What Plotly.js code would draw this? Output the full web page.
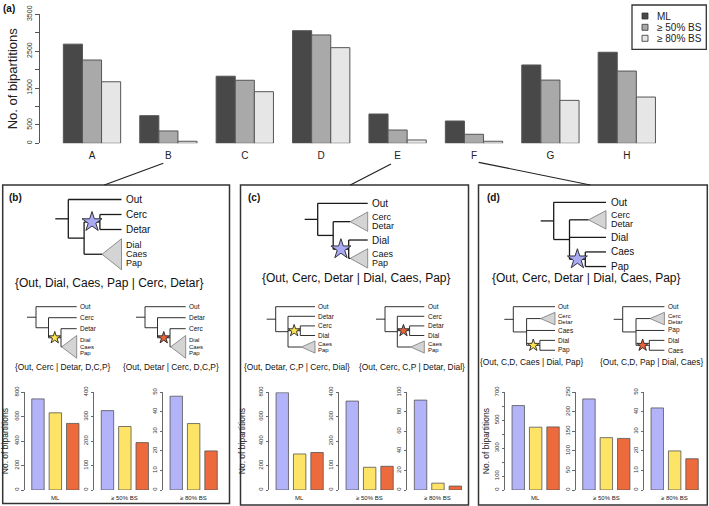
<!DOCTYPE html>
<html><head><meta charset="utf-8">
<script src="https://cdn.plot.ly/plotly-3.0.1.min.js"></script>
<style>html,body{margin:0;padding:0;background:#fff}#chart{width:709px;height:506px}</style>
</head><body><div id="chart"></div>
<script>
// ---------------- DATA ----------------
const categories = ['A','B','C','D','E','F','G','H'];
const seriesNames = ['ML','≥ 50% BS','≥ 80% BS'];
const mlCounts   = [2690, 750, 1820, 3055, 795, 605, 2125, 2470];
const bs50Counts = [2260, 335, 1710, 2940, 360, 245, 1715, 1960];
const bs80Counts = [1670,  55, 1400, 2595,  90,  55, 1165, 1255];
const mainTickVals = [0,500,1000,1500,2000,2500,3000,3500];
const mainTickText = ['0','500','','1500','','2500','','3500'];

const starCats = ['blue star','yellow star','red star'];
const smallLabels = ['ML','≥ 50% BS','≥ 80% BS'];
const panelB_ML = [746, 632, 545];
const panelB_BS50 = [325, 260, 194];
const panelB_BS80 = [48, 34, 20];
const panelC_ML = [797, 295, 307];
const panelC_BS50 = [364, 93, 97];
const panelC_BS80 = [92, 7, 4];
const panelD_ML = [605, 450, 452];
const panelD_BS50 = [233, 134, 132];
const panelD_BS80 = [42, 20, 16];
const ticksB_ML = [0,200,400,600,800],  ticktextB_ML = ['0','200','400','600','800'];
const ticksB_50 = [0,100,200,300,400],  ticktextB_50 = ['0','100','200','300','400'];
const ticksB_80 = [0,10,20,30,40,50],   ticktextB_80 = ['0','10','20','30','40','50'];
const ticksC_ML = [0,200,400,600,800],  ticktextC_ML = ['0','200','400','600','800'];
const ticksC_50 = [0,100,200,300,400],  ticktextC_50 = ['0','100','200','300','400'];
const ticksC_80 = [0,20,40,60,80,100],  ticktextC_80 = ['0','20','40','60','80','100'];
const ticksD_ML = [0,100,200,300,400,500,600,700], ticktextD_ML = ['0','100','','300','','500','','700'];
const ticksD_50 = [0,50,100,150,200,250], ticktextD_50 = ['0','50','100','150','200','250'];
const ticksD_80 = [0,10,20,30,40,50],   ticktextD_80 = ['0','10','20','30','40','50'];
const axisTopsB = [800,400,50], axisTopsC = [800,400,100], axisTopsD = [700,250,50];

const panelTitles = ['(a)','(b)','(c)','(d)'];
const bigFormulas = ['{Out, Dial, Caes, Pap | Cerc, Detar}','{Out, Cerc, Detar | Dial, Caes, Pap}','{Out, Cerc, Detar | Dial, Caes, Pap}'];
const smallFormulas = ['{Out, Cerc | Detar, D,C,P}','{Out, Detar | Cerc, D,C,P}',
                       '{Out, Detar, C,P | Cerc, Dial}','{Out, Cerc, C,P | Detar, Dial}',
                       '{Out, C,D, Caes | Dial, Pap}','{Out, C,D, Pap | Dial, Caes}'];
// tree topologies
const treeBigB = {c:[{n:'Out'},{c:[{c:[{n:'Cerc'},{n:'Detar'}],star:'blue'},{tri:['Dial','Caes','Pap']}]}]};
const treeBigC = {c:[{n:'Out'},{c:[{tri:['Cerc','Detar']},{c:[{n:'Dial'},{tri:['Caes','Pap']}],star:'blue'}]}]};
const treeBigD = {c:[{n:'Out'},{c:[{tri:['Cerc','Detar']},{n:'Dial'},{c:[{n:'Caes'},{n:'Pap'}],star:'blue'}]}]};
const treeBL = {c:[{n:'Out'},{c:[{n:'Cerc'},{c:[{n:'Detar'},{tri:['Dial','Caes','Pap']}],star:'yellow'}]}]};
const treeBR = {c:[{n:'Out'},{c:[{n:'Detar'},{c:[{n:'Cerc'},{tri:['Dial','Caes','Pap']}],star:'red'}]}]};
const treeCL = {c:[{n:'Out'},{c:[{n:'Detar'},{c:[{n:'Cerc'},{n:'Dial'}],star:'yellow'},{tri:['Caes','Pap']}]}]};
const treeCR = {c:[{n:'Out'},{c:[{n:'Cerc'},{c:[{n:'Detar'},{n:'Dial'}],star:'red'},{tri:['Caes','Pap']}]}]};
const treeDL = {c:[{n:'Out'},{c:[{tri:['Cerc','Detar']},{n:'Caes'},{c:[{n:'Dial'},{n:'Pap'}],star:'yellow'}]}]};
const treeDR = {c:[{n:'Out'},{c:[{tri:['Cerc','Detar']},{n:'Pap'},{c:[{n:'Dial'},{n:'Caes'}],star:'red'}]}]};

// ---------------- STYLE / LAYOUT ----------------
const FONT = 'Liberation Sans, Arial, Helvetica, sans-serif';
const W = 709, H = 506;
const fx = p => p / W, fy = p => 1 - p / H;
const data = [], annotations = [], shapes = [];
const OV = {xref:'x11', yref:'y11'};
const layout = {
  width: W, height: H, margin:{l:0,r:0,t:0,b:0,pad:0},
  paper_bgcolor:'#fff', plot_bgcolor:'rgba(0,0,0,0)', showlegend:false,
  barmode:'group', bargap:0.25, bargroupgap:0,
  font:{family:FONT, color:'#222'}
};

// main chart (a)
const mainColors = ['#484848','#a9a9a9','#e6e6e6'];
[mlCounts, bs50Counts, bs80Counts].forEach((v,i) => data.push({
  type:'bar', x:categories, y:v, name:seriesNames[i], xaxis:'x', yaxis:'y',
  marker:{color:mainColors[i], line:{color:'#555', width:1}}, hoverinfo:'skip'
}));
const mainL = 39.5, mainR = 660, catC0 = 92, catStep = 76.4;
layout.xaxis = {domain:[fx(mainL), fx(mainR)], anchor:'y', type:'category',
  range:[(mainL-catC0)/catStep, (mainR-catC0)/catStep], showline:false, ticks:'',
  showgrid:false, zeroline:false, tickfont:{size:10, color:'#222'}, ticklabelstandoff:5, fixedrange:true};
layout.yaxis = {domain:[fy(143.3), fy(14.3)], anchor:'x', range:[0,3500], showline:true,
  linecolor:'#555', linewidth:1, ticks:'outside', ticklen:4, tickcolor:'#555', tickwidth:1,
  tickmode:'array', tickvals:mainTickVals, ticktext:mainTickText, tickangle:-90,
  tickfont:{size:7, color:'#333'}, showgrid:false, zeroline:false, fixedrange:true,
  title:{text:'No. of bipartitions', font:{size:13, color:'#222'}, standoff:5}};

// manual legend
shapes.push(Object.assign({type:'rect', x0:632, x1:706.3, y0:5, y1:49.3, line:{color:'#333', width:1.3}, fillcolor:'rgba(0,0,0,0)'}, OV));
const legY = [16, 27.3, 38.3];
seriesNames.forEach((nm,i) => {
  shapes.push(Object.assign({type:'rect', x0:642, x1:648, y0:legY[i]-3, y1:legY[i]+3, line:{color:'#333', width:0.8}, fillcolor:mainColors[i]}, OV));
  annotations.push(Object.assign({x:655, y:legY[i], text:nm, showarrow:false, xanchor:'left', yanchor:'middle', font:{size:10, color:'#222'}}, OV));
});

// panel boxes and connectors
const boxes = [[2.7,185,229.5,503.5],[240.5,185,468.5,505],[478.5,185,707.3,505]];
boxes.forEach(b => shapes.push(Object.assign({type:'rect', x0:b[0], y0:b[1], x1:b[2], y1:b[3], line:{color:'#333', width:1.5}, fillcolor:'rgba(0,0,0,0)'}, OV)));
const connectors = [[163.3,163.3,104.3,185],[391,164,350.3,185],[478.7,162.3,590.3,185]];
connectors.forEach(c => shapes.push(Object.assign({type:'line', x0:c[0], y0:c[1], x1:c[2], y1:c[3], line:{color:'#222', width:1.2}}, OV)));

// panel letters
const panelLabelPos = [[1,8],[7,197],[246,197],[485,197]];
panelTitles.forEach((t,i) => annotations.push(Object.assign({x:panelLabelPos[i][0], y:panelLabelPos[i][1], text:'<b>'+t+'</b>', showarrow:false, xanchor:'left', yanchor:'middle', font:{size:10, color:'#111'}}, OV)));

// formulas
const bigFormPos = [[109,282.7],[356,278.3],[586,278.3]];
bigFormulas.forEach((t,i) => annotations.push(Object.assign({x:bigFormPos[i][0], y:bigFormPos[i][1], text:t, showarrow:false, xanchor:'center', yanchor:'middle', font:{size:12, color:'#111'}}, OV)));
const smallFormPos = [[62,366.7],[170.7,366.7],[296.7,366.7],[411.7,366.7],[531.7,361.5],[651.7,361.5]];
smallFormulas.forEach((t,i) => annotations.push(Object.assign({x:smallFormPos[i][0], y:smallFormPos[i][1], text:t, showarrow:false, xanchor:'center', yanchor:'middle', font:{size:8.4, color:'#111'}}, OV)));

// small bar charts
const smallSets = [panelB_ML,panelB_BS50,panelB_BS80,panelC_ML,panelC_BS50,panelC_BS80,panelD_ML,panelD_BS50,panelD_BS80];
const smallTops = axisTopsB.concat(axisTopsC, axisTopsD);
const smallTV = [ticksB_ML,ticksB_50,ticksB_80,ticksC_ML,ticksC_50,ticksC_80,ticksD_ML,ticksD_50,ticksD_80];
const smallTT = [ticktextB_ML,ticktextB_50,ticktextB_80,ticktextC_ML,ticktextC_50,ticktextC_80,ticktextD_ML,ticktextD_50,ticktextD_80];
const smallLeft = [24.5, 94, 162.8, 268.8, 338.8, 407.1, 504.8, 575.5, 643.8];
const smallW = 61.7;
const starBarColors = ['#b3b3fa','#fee466','#ec6a3c'];
const titleStandoff = [9, 0, 0, 11, 0, 0, 3, 0, 0];
smallSets.forEach((vals,i) => {
  const n = i + 2;
  data.push({type:'bar', x:starCats, y:vals, width:0.714, xaxis:'x'+n, yaxis:'y'+n,
    marker:{color:starBarColors, line:{color:'#555', width:0.8}}, hoverinfo:'skip'});
  layout['xaxis'+n] = {domain:[fx(smallLeft[i]), fx(smallLeft[i]+smallW)], anchor:'y'+n, type:'category',
    range:[-0.774, 2.774], showline:false, ticks:'', showticklabels:false, showgrid:false, zeroline:false, fixedrange:true};
  const ya = {domain:[fy(490), fy(392.3)], anchor:'x'+n, range:[0, smallTops[i]], showline:true,
    linecolor:'#444', linewidth:0.8, ticks:'outside', ticklen:2.5, tickcolor:'#444', tickwidth:0.8,
    tickmode:'array', tickvals:smallTV[i], ticktext:smallTT[i], tickangle:-90,
    tickfont:{size:6, color:'#333'}, showgrid:false, zeroline:false, fixedrange:true};
  if (i % 3 === 0) ya.title = {text:'No. of bipartitions', font:{size:8.5, color:'#222'}, standoff:titleStandoff[i]};
  layout['yaxis'+n] = ya;
  annotations.push({xref:'x'+n+' domain', yref:'y11', x:0.5, y:498.3, text:smallLabels[i%3], showarrow:false,
    xanchor:'center', yanchor:'middle', font:{size:6, color:'#222'}});
});

// overlay axes in pixel units
layout.xaxis11 = {domain:[0,1], anchor:'y11', range:[0,W], visible:false, fixedrange:true};
layout.yaxis11 = {domain:[0,1], anchor:'x11', range:[H,0], visible:false, fixedrange:true};

// tree drawing
const starColors = {blue:'#aaaaf4', yellow:'#fde24f', red:'#e8633a'};
function drawTree(tree, P) {
  let row = 0, prevH = null;
  (function assign(nd){
    if (nd.c) { nd.c.forEach(assign); return; }
    const h = nd.tri ? 0.9*nd.tri.length - 0.4 : 1;
    nd.row = prevH === null ? 0 : row + prevH/2 + h/2;
    row = nd.row; prevH = h; nd.h = h;
  })(tree);
  (function place(nd, depth){
    if (nd.c) {
      nd.x = P.x0 + depth*P.dx;
      nd.c.forEach(ch => place(ch, depth+1));
      nd.y = (nd.c[0].y + nd.c[nd.c.length-1].y)/2;
    } else {
      nd.y = P.y0 + nd.row*P.s;
      nd.x = nd.tri ? P.xEnd - P.triW : P.xEnd;
    }
  })(tree, 0);
  const lx = [], ly = [], sx = [], sy = [], sc = [];
  const seg = (x1,y1,x2,y2) => { lx.push(x1,x2,null); ly.push(y1,y2,null); };
  seg(P.x0 - P.stub, tree.y, P.x0, tree.y);
  (function draw(nd){
    if (nd.c) {
      seg(nd.x, nd.c[0].y, nd.x, nd.c[nd.c.length-1].y);
      nd.c.forEach(ch => {
        seg(nd.x, ch.y, ch.x, ch.y);
        if (ch.star) { sx.push((nd.x + ch.x)/2); sy.push(ch.y); sc.push(starColors[ch.star]); }
        draw(ch);
      });
    } else if (nd.tri) {
      const hh = 0.45*nd.h*P.s;
      data.push({type:'scatter', mode:'lines', x:[nd.x, P.xEnd, P.xEnd, nd.x], y:[nd.y, nd.y-hh, nd.y+hh, nd.y],
        fill:'toself', fillcolor:'#d4d4d4', line:{color:'#777', width:0.8}, xaxis:'x11', yaxis:'y11', hoverinfo:'skip'});
      const k = nd.tri.length;
      nd.tri.forEach((t,j) => annotations.push(Object.assign({x:P.xEnd + P.pad, y:nd.y + (j-(k-1)/2)*0.6*P.s, text:t,
        showarrow:false, xanchor:'left', yanchor:'middle', font:{size:P.triFont, color:'#111'}}, OV)));
    } else {
      annotations.push(Object.assign({x:P.xEnd + P.pad, y:nd.y, text:nd.n, showarrow:false, xanchor:'left',
        yanchor:'middle', font:{size:P.font, color:'#111'}}, OV));
    }
  })(tree);
  data.push({type:'scatter', mode:'lines', x:lx, y:ly, line:{color:'#1a1a1a', width:P.lw}, connectgaps:false,
    xaxis:'x11', yaxis:'y11', hoverinfo:'skip'});
  data.push({type:'scatter', mode:'markers', x:sx, y:sy, xaxis:'x11', yaxis:'y11', hoverinfo:'skip',
    marker:{symbol:'star', size:P.star, color:sc, line:{color:'#222', width:0.9}}});
}
const bigP = {stub:13, pad:2.5, font:10, triFont:9, lw:1.3, star:15};
const smallP = {stub:9, pad:1.3, font:6.5, triFont:6, lw:0.9, star:9};
drawTree(treeBigB, Object.assign({x0:68.3, dx:15.8, xEnd:121.5, y0:199.5, s:15, triW:19.5}, bigP));
drawTree(treeBigC, Object.assign({x0:317.7, dx:15.5, xEnd:367.7, y0:203.3, s:15.3, triW:17.5}, bigP));
drawTree(treeBigD, Object.assign({x0:553.7, dx:15.8, xEnd:606, y0:202.3, s:14.6, triW:17.5}, bigP));
drawTree(treeBL, Object.assign({x0:36, dx:12.5, xEnd:76.7, y0:306.7, s:11, triW:15}, smallP));
drawTree(treeBR, Object.assign({x0:145, dx:12.5, xEnd:185.7, y0:306.7, s:11, triW:15}, smallP));
drawTree(treeCL, Object.assign({x0:275.7, dx:12.3, xEnd:315, y0:306.7, s:9.6, triW:13.5}, smallP));
drawTree(treeCR, Object.assign({x0:385, dx:12.3, xEnd:424.3, y0:306.7, s:9.6, triW:13.5}, smallP));
drawTree(treeDL, Object.assign({x0:513.3, dx:13.3, xEnd:555, y0:306.7, s:9.9, triW:14.3}, smallP));
drawTree(treeDR, Object.assign({x0:622.7, dx:13.3, xEnd:664.4, y0:306.7, s:9.9, triW:14.3}, smallP));

layout.annotations = annotations;
layout.shapes = shapes;
Plotly.newPlot('chart', data, layout, {displayModeBar:false, staticPlot:true});
</script></body></html>
